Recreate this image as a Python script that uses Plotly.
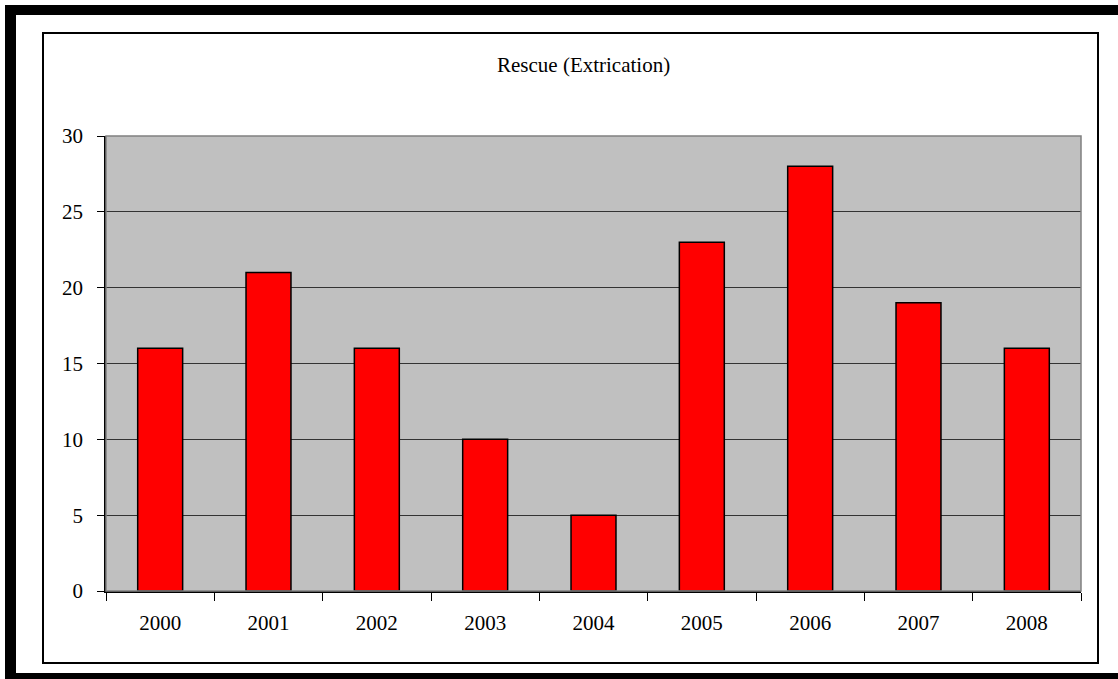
import plotly.graph_objects as go

# Rescue (extrication) call counts per year
years = ["2000", "2001", "2002", "2003", "2004", "2005", "2006", "2007", "2008"]
rescues = [16, 21, 16, 10, 5, 23, 28, 19, 16]
y_ticks = [0, 5, 10, 15, 20, 25, 30]

W, H = 1118, 679
L, R, T, B = 106, 1081, 136, 591  # plot area in pixels
PW, PH = R - L, B - T

FONT = "Liberation Serif"


def px(x):
    return (x - L) / PW


def py(y):
    return (B - y) / PH


fig = go.Figure(
    go.Bar(
        x=years,
        y=rescues,
        marker=dict(color="#FF0000", line=dict(color="#000000", width=1.5)),
        hoverinfo="x+y",
    )
)

shapes = [
    # plot area outline
    dict(type="rect", xref="paper", yref="paper", x0=0, x1=1, y0=0, y1=1,
         line=dict(color="#808080", width=1.5), layer="above"),
    # chart frame
    dict(type="rect", xref="paper", yref="paper", x0=px(43), x1=px(1098),
         y0=py(663), y1=py(33), line=dict(color="#000000", width=2)),
    # heavy outer border
    dict(type="rect", xref="paper", yref="paper", x0=px(5), x1=px(16),
         y0=py(H + 5), y1=py(5), fillcolor="#000000", line=dict(width=0)),
    dict(type="rect", xref="paper", yref="paper", x0=px(5), x1=px(W + 5),
         y0=py(15), y1=py(5), fillcolor="#000000", line=dict(width=0)),
    dict(type="rect", xref="paper", yref="paper", x0=px(5), x1=px(W + 5),
         y0=py(H + 5), y1=py(673), fillcolor="#000000", line=dict(width=0)),
]

fig.update_layout(
    width=W,
    height=H,
    margin=dict(l=L, r=W - R, t=T, b=H - B, pad=0),
    paper_bgcolor="#FFFFFF",
    plot_bgcolor="#C0C0C0",
    bargap=0.585,
    showlegend=False,
    font=dict(family=FONT, size=21, color="#000000"),
    shapes=shapes,
    annotations=[
        dict(text="Rescue (Extrication)", xref="paper", yref="paper",
             x=px(583), y=py(65), xanchor="center", yanchor="middle",
             showarrow=False, font=dict(family=FONT, size=21, color="#000000")),
    ],
    xaxis=dict(
        type="category",
        showline=True, linecolor="#000000", linewidth=1.5,
        ticks="outside", tickson="boundaries", ticklen=8, tickcolor="#000000",
        tickwidth=1, showgrid=False, zeroline=False,
        tickfont=dict(family=FONT, size=21),
        ticklabelstandoff=12,
    ),
    yaxis=dict(
        range=[0, 30], tickvals=y_ticks,
        showline=True, linecolor="#000000", linewidth=1.5,
        ticks="outside", ticklen=7, tickcolor="#000000", tickwidth=1,
        showgrid=True, gridcolor="#333333", gridwidth=1,
        zeroline=False,
        tickfont=dict(family=FONT, size=21),
        ticklabelstandoff=10,
    ),
)

fig.write_html("out.html")
